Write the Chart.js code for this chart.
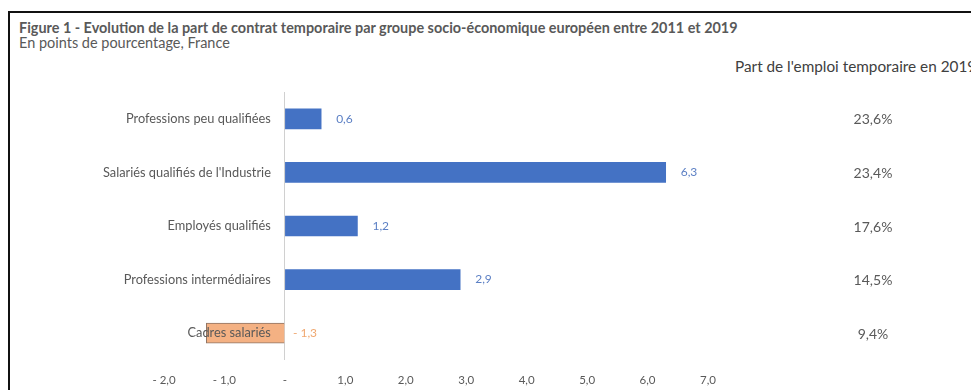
<!DOCTYPE html>
<html><head><meta charset="utf-8">
<script src="https://cdn.jsdelivr.net/npm/chart.js@4"></script>
<style>
html,body{margin:0;padding:0;background:#fff;}
#wrap{position:relative;width:971px;height:390px;overflow:hidden;background:#fff;font-family:Lato,"Noto Sans",sans-serif;}
#frame{position:absolute;left:8px;top:11px;width:1000px;height:500px;border-left:2px solid #111;border-top:2px solid #111;}
.t{position:absolute;white-space:nowrap;color:#595959;line-height:1;}
#title{left:19px;top:21px;font-weight:bold;font-size:13px;}
#sub{left:19px;top:36px;font-size:12.5px;}
#rhead{left:735px;top:59px;font-size:14.5px;color:#404040;}
#c{position:absolute;left:0;top:0;}
</style></head>
<body>
<div id="wrap">
  <div id="frame"></div>
  <div class="t" id="title">Figure 1 - Evolution de la part de contrat temporaire par groupe socio-économique européen entre 2011 et 2019</div>
  <div class="t" id="sub">En points de pourcentage, France</div>
  <div class="t" id="rhead">Part de l'emploi temporaire en 2019</div>
  <canvas id="c" width="971" height="390"></canvas>
</div>
<script>
const categories = ['Professions peu qualifiées', "Salariés qualifiés de l'Industrie", 'Employés qualifiés', 'Professions intermédiaires', 'Cadres salariés'];
const changePts = [0.6, 6.3, 1.2, 2.9, -1.3];
const tempShare2019 = [23.6, 23.4, 17.6, 14.5, 9.4];
const xMin = -2, xMax = 7;

function fitText(id, w){
  const el = document.getElementById(id);
  let fs = parseFloat(getComputedStyle(el).fontSize);
  for(let i=0;i<6;i++){ const cw = el.getBoundingClientRect().width; fs = fs * w / cw; el.style.fontSize = fs + 'px'; }
}
fitText('title', 719);
fitText('sub', 211);
fitText('rhead', 241);

function fmt(v){ return (v < 0 ? '- ' : '') + Math.abs(v).toFixed(1).replace('.', ','); }

const labelsPlugin = {
  id: 'labels',
  afterDatasetsDraw(chart){
    const ctx = chart.ctx;
    const meta = chart.getDatasetMeta(0);
    const xs = chart.scales.x;
    const x0 = xs.getPixelForValue(0);
    ctx.save();
    ctx.textBaseline = 'middle';
    meta.data.forEach((bar, i) => {
      const y = bar.y;
      const v = changePts[i];
      // category label
      ctx.font = '12.8px Lato, sans-serif';
      ctx.fillStyle = '#595959';
      ctx.textAlign = 'right';
      ctx.fillText(categories[i], x0 - 14, y);
      // value label
      ctx.font = '12px Lato, sans-serif';
      ctx.textAlign = 'left';
      if (v >= 0){
        ctx.fillStyle = '#5b7fc4';
        ctx.fillText(fmt(v), bar.x + 15, y);
      } else {
        ctx.fillStyle = '#f0a870';
        ctx.fillText(fmt(v), x0 + 8, y);
      }
      // right column
      ctx.font = '14px Lato, sans-serif';
      ctx.fillStyle = '#595959';
      ctx.textAlign = 'center';
      ctx.fillText(tempShare2019[i].toFixed(1).replace('.', ',') + '%', 873, y + 1);
    });
    ctx.restore();
  }
};

new Chart(document.getElementById('c'), {
  type: 'bar',
  data: {
    labels: categories,
    datasets: [{
      data: changePts,
      backgroundColor: changePts.map(v => v < 0 ? '#f4b183' : '#4472c4'),
      borderColor: changePts.map(v => v < 0 ? '#8f7565' : '#4472c4'),
      borderWidth: changePts.map(v => v < 0 ? 1 : 0),
      barThickness: 20
    }]
  },
  options: {
    indexAxis: 'y',
    responsive: false,
    animation: false,
    devicePixelRatio: 1,
    layout: { padding: { left: 164, right: 263, top: 92, bottom: 4 } },
    plugins: { legend: { display: false }, tooltip: { enabled: false } },
    scales: {
      x: {
        min: xMin, max: xMax,
        afterFit(scale){ scale.paddingLeft = 0; scale.paddingRight = 0; scale.height = 26; },
        ticks: {
          stepSize: 1,
          padding: 3,
          color: '#595959',
          font: { family: 'Lato', size: 11.5 },
          callback: v => v === 0 ? '-' : fmt(v)
        },
        grid: {
          display: true, drawTicks: true, tickLength: 10, tickColor: 'transparent',
          color: c => (c.tick && c.tick.value === 0) ? '#d0d0d0' : 'transparent'
        },
        border: { display: false }
      },
      y: { display: false }
    }
  },
  plugins: [labelsPlugin]
});
</script>
</body></html>
